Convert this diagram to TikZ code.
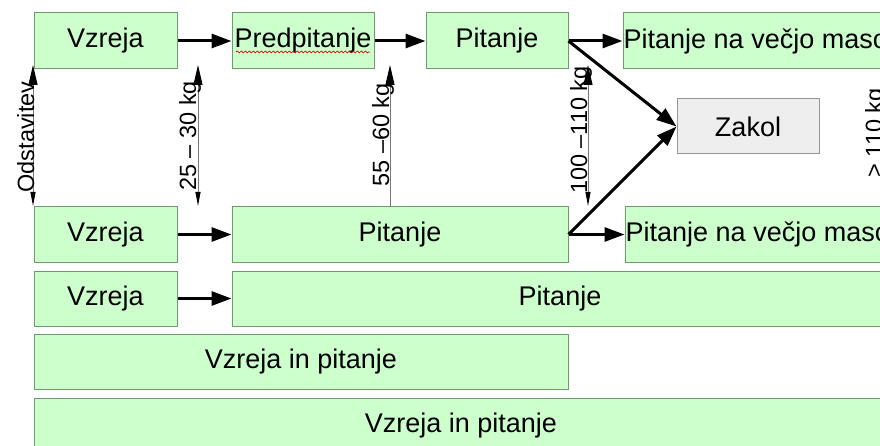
\documentclass[tikz,border=0pt]{standalone}
\usepackage{fontspec}
\setmainfont{Liberation Sans}
\usetikzlibrary{arrows.meta,decorations.pathmorphing}
\definecolor{boxfill}{RGB}{204,255,204}
\definecolor{boxline}{RGB}{110,155,110}
\definecolor{grayfill}{RGB}{238,238,238}
\definecolor{grayline}{RGB}{150,150,150}
\definecolor{thinline}{RGB}{120,120,120}
\tikzset{
  gbox/.style={draw=boxline, fill=boxfill, line width=1pt, inner sep=0pt, font=\fontsize{27}{32}\selectfont},
  zbox/.style={draw=grayline, fill=grayfill, line width=1pt, inner sep=0pt, font=\fontsize{27}{32}\selectfont},
  bigarrow/.style={line width=3pt, -{Triangle[length=20pt,width=14pt]}},
  thinarrow/.style={draw=thinline, line width=1pt, arrows={{Triangle[length=14pt,width=5pt,color=black,fill=black]}-{Triangle[length=20pt,width=9pt,color=black,fill=black]}}},
  uparrow/.style={draw=thinline, line width=1pt, -{Triangle[length=20pt,width=9pt,color=black,fill=black]}},
  vlabel/.style={rotate=90, anchor=base, inner sep=0pt, font=\fontsize{23.5}{28}\selectfont},
}
\begin{document}
\begin{tikzpicture}[x=1pt,y=-1pt]
\useasboundingbox (0,0) rectangle (880,446);
\clip (0,0) rectangle (880,446);
\fill[white] (0,0) rectangle (880,446);
% row 1
\node[gbox, minimum width=143pt, minimum height=56pt] (v1) at (105.5,41) {Vzreja};
\node[gbox, minimum width=142pt, minimum height=56pt] (p1) at (303,41) {Predpitanje};
\node[gbox, minimum width=142pt, minimum height=56pt] (t1) at (497,41) {Pitanje};
\node[gbox, minimum width=277pt, minimum height=56pt] (m1) at (761.5,41) {};
\node[anchor=west, inner sep=0pt, font=\fontsize{27}{32}\selectfont] (m1t) at (m1.west) {\hspace{1pt}Pitanje na večjo maso};
\node[zbox, minimum width=142pt, minimum height=55pt] (z) at (748,126.5) {Zakol};
% row 2
\node[gbox, minimum width=143pt, minimum height=55pt] (v2) at (105.5,234.5) {Vzreja};
\node[gbox, minimum width=336pt, minimum height=55pt] (t2) at (400,234.5) {Pitanje};
\node[gbox, minimum width=275pt, minimum height=55pt] (m2) at (762.5,234.5) {};
\node[anchor=west, inner sep=0pt, font=\fontsize{27}{32}\selectfont] (m2t) at (m2.west) {\hspace{1pt}Pitanje na večjo maso};
% row 3
\node[gbox, minimum width=143pt, minimum height=55pt] (v3) at (105.5,298.5) {Vzreja};
\node[gbox, minimum width=656pt, minimum height=55pt] (t3) at (560,298.5) {Pitanje};
% row 4
\node[gbox, minimum width=534pt, minimum height=55pt] (vp4) at (301,361.5) {Vzreja in pitanje};
% row 5
\node[gbox, minimum width=854pt, minimum height=55pt] (vp5) at (461,425.5) {Vzreja in pitanje};
% spell-check underline
\draw[red!80!black, line width=0.7pt, decorate, decoration={snake, segment length=4pt, amplitude=1pt}] (236,52) -- (370,52);
% thick arrows
\draw[bigarrow] (v1.east) -- (p1.west);
\draw[bigarrow] (p1.east) -- (t1.west);
\draw[bigarrow] (t1.east) -- (m1.west);
\draw[bigarrow] (t1.east) -- (z.west);
\draw[bigarrow] (t2.east) -- (z.west);
\draw[bigarrow] (t2.east) -- (m2.west);
\draw[bigarrow] (v2.east) -- (t2.west);
\draw[bigarrow] (v3.east) -- (t3.west);
% thin vertical arrows
\coordinate (a1b) at (33,206); \coordinate (a1t) at (33,65);
\coordinate (a2b) at (198,206); \coordinate (a2t) at (198,65);
\coordinate (a3b) at (390,207); \coordinate (a3t) at (390,65);
\coordinate (a4b) at (588,206); \coordinate (a4t) at (588,65);
\draw[thinarrow] (a1b) -- (a1t);
\draw[thinarrow] (a2b) -- (a2t);
\draw[uparrow] (a3b) -- (a3t);
\draw[thinarrow] (a4b) -- (a4t);
\node[vlabel] (l1) at (34,137) {Odstavitev};
\node[vlabel] (l2) at (196,136) {25 – 30 kg};
\node[vlabel] (l3) at (389,135) {55 –60 kg};
\node[vlabel] (l4) at (587,130) {100 –110 kg};
\node[vlabel] (l5) at (882,133) {> 110 kg};
\end{tikzpicture}
\end{document}
